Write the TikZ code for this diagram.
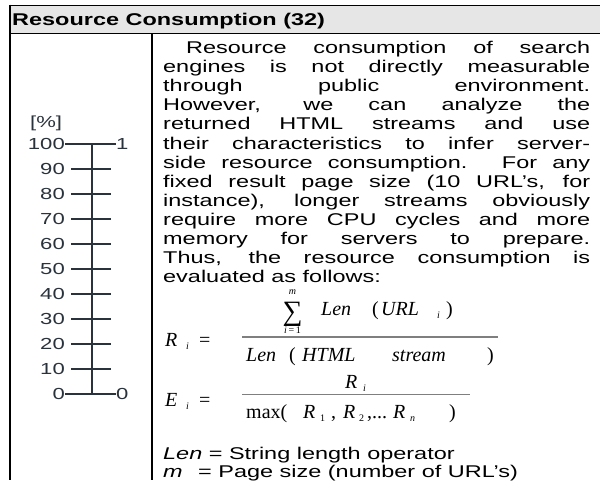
\documentclass[tikz,border=0pt]{standalone}
\usepackage{fontspec}
\setmainfont{Liberation Sans}[FakeStretch=1.38]
\newfontfamily\eqf{Liberation Serif}
\definecolor{hdgray}{HTML}{E6E6E6}
\definecolor{scalecol}{HTML}{2A323C}
\definecolor{fracgray}{HTML}{7F7F7F}
\begin{document}
\begin{tikzpicture}[x=1pt,y=-1pt,
  body/.style={inner sep=0pt,font=\fontsize{17}{19.1}\selectfont},
  eqi/.style={inner sep=0pt,anchor=base west,font=\eqf\itshape\fontsize{20}{20}\selectfont},
  equ/.style={inner sep=0pt,anchor=base west,font=\eqf\fontsize{20}{20}\selectfont},
  subi/.style={inner sep=0pt,anchor=base west,font=\eqf\itshape\fontsize{10}{10}\selectfont},
  subu/.style={inner sep=0pt,anchor=base west,font=\eqf\fontsize{10}{10}\selectfont},
  lbl/.style={inner sep=0pt,text=scalecol,font=\fontsize{16}{16}\selectfont},
  fracline/.style={line width=1.7pt,fracgray},
  tick/.style={line width=1.3pt,scalecol}]
\useasboundingbox (0,0) rectangle (600,480);
\fill[white] (0,0) rectangle (600,480);
% frame
\fill[hdgray] (10,5) rectangle (600,33.5);
\draw[line width=0.9pt] (9,5) -- (600,5);
\draw[line width=0.9pt] (9,33.5) -- (600,33.5);
\draw[line width=2pt] (9.5,4.6) -- (9.5,480);
\draw[line width=2pt] (152,33.5) -- (152,480);
% header
\node[inner sep=0pt,anchor=base west,font=\bfseries\fontsize{17}{17}\selectfont] (hdr) at (12,25.5) {Resource Consumption (32)};
% body text
\node[body,anchor=base west,text width=427pt,align=justify] (txt) at (163,53.5) {%
\hspace*{23pt}Resource consumption of search\linebreak
engines is not directly measurable\linebreak
through public environment.\linebreak
However, we can analyze the\linebreak
returned HTML streams and use\linebreak
their characteristics to infer server-\linebreak
side resource consumption. For any\linebreak
fixed result page size (10 URL’s, for\linebreak
instance), longer streams obviously\linebreak
require more CPU cycles and more\linebreak
memory for servers to prepare.\linebreak
Thus, the resource consumption is\linebreak
evaluated as follows:};
% formula R_i
\node[eqi] (rR) at (165,346) {R};
\node[subi] (rRi) at (186,349) {i};
\node[equ] (rEq) at (199,346) {=};
\draw[fracline] (242,337) coordinate (f1a) -- (498,337) coordinate (f1b);
\node[inner sep=0pt,anchor=base,font=\eqf\fontsize{28}{28}\selectfont] (sum) at (292.5,320) {∑};
\node[subi,anchor=base] (summ) at (292.5,294) {m};
\node[subi,anchor=base] (sumi) at (292.5,333) {i\,\textup{=}\,\textup{1}};
\node[eqi] (nLen) at (321,315) {Len};
\node[equ] (nPo) at (372,315) {(};
\node[eqi] (nURL) at (381,315) {URL};
\node[subi] (nURLi) at (437,318) {i};
\node[equ] (nPc) at (446,315) {)};
\node[eqi] (dLen) at (246,361) {Len};
\node[equ] (dPo) at (289,361) {(};
\node[eqi] (dHTML) at (302,361) {HTML};
\node[eqi] (dStr) at (392,361) {stream};
\node[equ] (dPc) at (487,361) {)};
% formula E_i
\node[eqi] (eE) at (165,406) {E};
\node[subi] (eEi) at (186,409) {i};
\node[equ] (eEq) at (199,406) {=};
\draw[fracline] (242,394.5) coordinate (f2a) -- (470,394.5) coordinate (f2b);
\node[eqi] (eNR) at (345,388) {R};
\node[subi] (eNRi) at (363,391) {i};
\node[equ] (eMax) at (246,418) {max(};
\node[eqi] (eR1) at (303,418) {R};
\node[subu] (eR1s) at (320,421) {1};
\node[equ] (eC1) at (331,418) {,};
\node[eqi] (eR2) at (343,418) {R};
\node[subu] (eR2s) at (359,421) {2};
\node[equ] (eC2) at (367,418) {,...};
\node[eqi] (eRn) at (393,418) {R};
\node[subi] (eRns) at (410,421) {n};
\node[equ] (eMc) at (449,418) {)};
% legend
\node[body,anchor=base west] (lgLen) at (163,459) {\itshape Len\upshape\ = String length operator};
\node[body,anchor=base west] (lgM) at (163,477.5) {\itshape m};
\node[body,anchor=base west] (lgMT) at (198,477.5) {= Page size (number of URL’s)};
% scale
\node[lbl,anchor=base west] (pct) at (30,127) {[\%]};
\foreach \v [count=\k from 0] in {100,90,80,70,60,50,40,30,20,10,0} {
  \node[lbl,anchor=base east] (s\v) at (65,144+25*\k+5.7) {\v};
}
\node[lbl,anchor=base west] (rone) at (116,149.7) {1};
\node[lbl,anchor=base west] (rzero) at (116,399.7) {0};
\draw[tick] (92,144) coordinate (axtop) -- (92,394) coordinate (axbot);
\draw[tick] (s100.east |- axtop) -- (rone.west |- axtop);
\draw[tick] (s0.east |- axbot) -- (rzero.west |- axbot);
\foreach \v [count=\k from 1] in {90,80,70,60,50,40,30,20,10} {
  \draw[tick] (71,144+25*\k) -- (111,144+25*\k);
}
\end{tikzpicture}
\end{document}
